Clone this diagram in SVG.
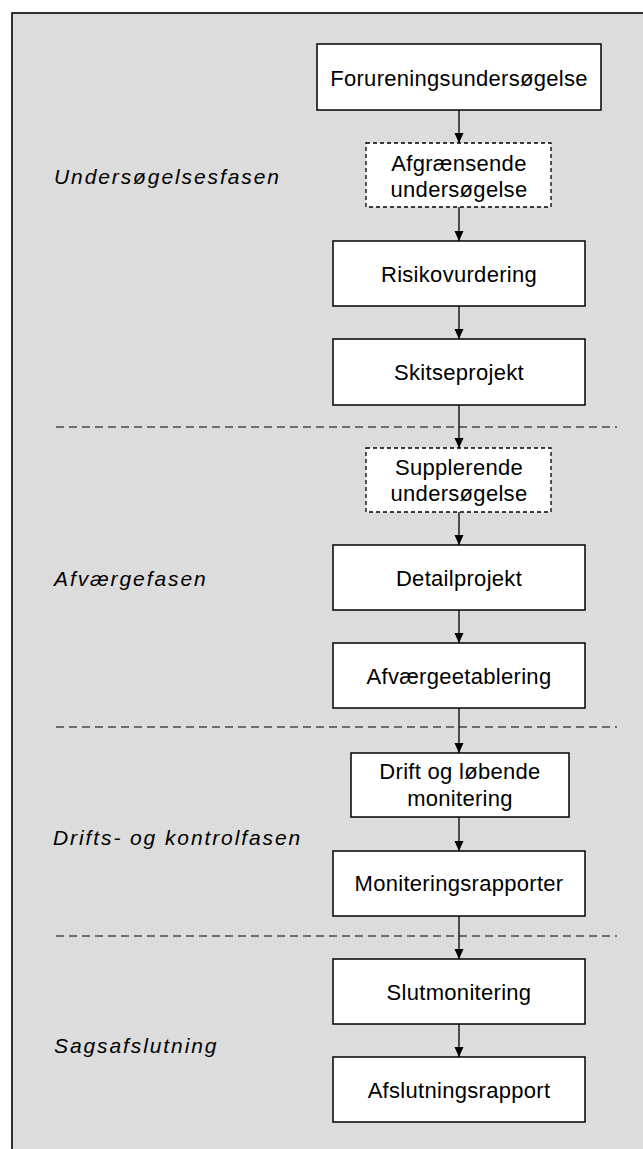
<svg xmlns="http://www.w3.org/2000/svg" width="643" height="1149" viewBox="0 0 643 1149">
<defs>
<style>
.frame{fill:#dcdcdc;stroke:#000;stroke-width:1.6}
.box{fill:#fff;stroke:#000;stroke-width:1.5}
.dbox{fill:#fff;stroke:#000;stroke-width:1.3;stroke-dasharray:4 3}
.sep{stroke:#000;stroke-width:1.2;stroke-dasharray:8 5;fill:none}
.conn{stroke:#000;stroke-width:1.3;fill:none}
.t{font-family:"Liberation Sans",Arial,sans-serif;font-size:22px;fill:#000;text-anchor:middle;letter-spacing:0.3px}
.ph{font-family:"Liberation Sans",Arial,sans-serif;font-size:21px;font-style:italic;fill:#000;letter-spacing:1.9px}
</style>
<marker id="ah" viewBox="0 0 10 10" refX="10" refY="5" markerWidth="10" markerHeight="10" markerUnits="userSpaceOnUse" orient="auto">
<path d="M0,0.5 L10,5 L0,9.5 Z" fill="#000"/>
</marker>
</defs>
<rect x="0" y="0" width="643" height="1149" fill="#fff"/>
<rect class="frame" x="12" y="13" width="700" height="1200"/>
<g id="separators">
<line class="sep" x1="56" y1="427" x2="617" y2="427"/>
<line class="sep" x1="56" y1="727" x2="617" y2="727"/>
<line class="sep" x1="56" y1="936" x2="617" y2="936"/>
</g>
<g id="phases">
<text class="ph" x="54" y="184">Undersøgelsesfasen</text>
<text class="ph" x="54" y="586">Afværgefasen</text>
<text class="ph" x="53" y="845">Drifts- og kontrolfasen</text>
<text class="ph" x="54" y="1053">Sagsafslutning</text>
</g>
<g id="connectors">
<line class="conn" x1="459" y1="110" x2="459" y2="143" marker-end="url(#ah)"/>
<line class="conn" x1="459" y1="207" x2="459" y2="241" marker-end="url(#ah)"/>
<line class="conn" x1="459" y1="306" x2="459" y2="339" marker-end="url(#ah)"/>
<line class="conn" x1="459" y1="405" x2="459" y2="448" marker-end="url(#ah)"/>
<line class="conn" x1="459" y1="512" x2="459" y2="545" marker-end="url(#ah)"/>
<line class="conn" x1="459" y1="610" x2="459" y2="643" marker-end="url(#ah)"/>
<line class="conn" x1="459" y1="708" x2="459" y2="753" marker-end="url(#ah)"/>
<line class="conn" x1="459" y1="817" x2="459" y2="851" marker-end="url(#ah)"/>
<line class="conn" x1="459" y1="916" x2="459" y2="959" marker-end="url(#ah)"/>
<line class="conn" x1="459" y1="1024" x2="459" y2="1057" marker-end="url(#ah)"/>
</g>
<g id="n1"><rect class="box" x="317" y="44" width="284" height="66"/><text class="t" x="459" y="86">Forureningsundersøgelse</text></g>
<g id="n2"><rect class="dbox" x="366" y="143" width="185" height="64"/><text class="t" x="459" y="171">Afgrænsende</text><text class="t" x="459" y="197">undersøgelse</text></g>
<g id="n3"><rect class="box" x="333" y="241" width="252" height="65"/><text class="t" x="459" y="282">Risikovurdering</text></g>
<g id="n4"><rect class="box" x="333" y="339" width="252" height="66"/><text class="t" x="459" y="380">Skitseprojekt</text></g>
<g id="n5"><rect class="dbox" x="366" y="448" width="185" height="64"/><text class="t" x="459" y="475">Supplerende</text><text class="t" x="459" y="501">undersøgelse</text></g>
<g id="n6"><rect class="box" x="333" y="545" width="252" height="65"/><text class="t" x="459" y="586">Detailprojekt</text></g>
<g id="n7"><rect class="box" x="333" y="643" width="252" height="65"/><text class="t" x="459" y="684">Afværgeetablering</text></g>
<g id="n8"><rect class="box" x="351" y="753" width="218" height="64"/><text class="t" x="460" y="779">Drift og løbende</text><text class="t" x="460" y="806">monitering</text></g>
<g id="n9"><rect class="box" x="333" y="851" width="252" height="65"/><text class="t" x="459" y="891">Moniteringsrapporter</text></g>
<g id="n10"><rect class="box" x="333" y="959" width="252" height="65"/><text class="t" x="459" y="1000">Slutmonitering</text></g>
<g id="n11"><rect class="box" x="333" y="1057" width="252" height="65"/><text class="t" x="459" y="1098">Afslutningsrapport</text></g>
</svg>
